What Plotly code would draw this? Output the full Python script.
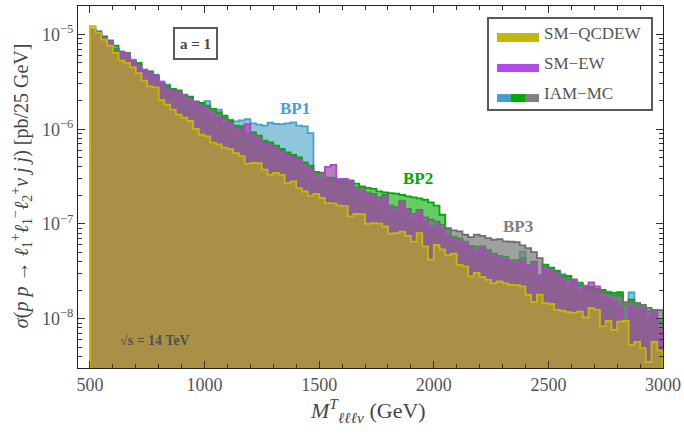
import plotly.graph_objects as go

# ---------------- data (pb / 25 GeV), bins of 25 GeV from 500 to 3000 GeV ----------------
bin_start = 500
bin_width = 25
n_bins = 100

sm_qcdew = [1.22e-5, 1.04e-5, 8.8e-6, 7.6e-6, 6.4e-6, 5.3e-6, 5.0e-6, 4.5e-6, 3.9e-6, 3.25e-6,
            2.83e-6, 2.76e-6, 2.02e-6, 1.81e-6, 1.61e-6, 1.42e-6, 1.32e-6, 1.22e-6, 1.01e-6, 8.75e-7,
            8.4e-7, 7.2e-7, 6.9e-7, 6.4e-7, 6.15e-7, 5.6e-7, 5.2e-7, 4.3e-7, 4.4e-7, 4.37e-7,
            3.74e-7, 3.31e-7, 3.45e-7, 3.3e-7, 2.7e-7, 2.81e-7, 2.39e-7, 2.2e-7, 1.99e-7, 2.08e-7,
            1.88e-7, 1.66e-7, 1.65e-7, 1.56e-7, 1.54e-7, 1.2e-7, 1.28e-7, 1.27e-7, 1.0e-7, 1.02e-7,
            1.01e-7, 9.4e-8, 7.9e-8, 8.0e-8, 8.3e-8, 7.5e-8, 6.5e-8, 8.0e-8, 5.8e-8, 4.2e-8,
            6.0e-8, 5.4e-8, 4.7e-8, 4.85e-8, 3.7e-8, 3.56e-8, 2.8e-8, 3.05e-8, 2.75e-8, 2.57e-8,
            2.38e-8, 2.47e-8, 2.36e-8, 2.28e-8, 2.26e-8, 2.19e-8, 1.79e-8, 1.5e-8, 1.79e-8, 1.46e-8,
            1.43e-8, 1.24e-8, 1.21e-8, 1.17e-8, 1.15e-8, 1.19e-8, 1.03e-8, 1.29e-8, 1.24e-8, 8.3e-9,
            9.5e-9, 7.6e-9, 9.3e-9, 9.5e-9, 5.3e-9, 5.7e-9, 4.9e-9, 3.5e-9, 5.7e-9, 4.6e-9]

sm_ew = [1.08e-5, 1.02e-5, 9.2e-6, 8.25e-6, 6.6e-6, 6.4e-6, 5.8e-6, 5.2e-6, 4.6e-6, 4.2e-6,
         3.9e-6, 3.56e-6, 3.08e-6, 2.61e-6, 2.51e-6, 2.41e-6, 2.14e-6, 2.08e-6, 1.81e-6, 1.74e-6,
         1.61e-6, 1.37e-6, 1.31e-6, 1.16e-6, 1.12e-6, 9.9e-7, 9.8e-7, 1.13e-6, 8.4e-7, 7.75e-7,
         6.9e-7, 6.6e-7, 6.1e-7, 5.6e-7, 5.2e-7, 4.85e-7, 4.57e-7, 4.05e-7, 3.74e-7, 2.98e-7,
         3.05e-7, 4.0e-7, 4.2e-7, 2.93e-7, 2.98e-7, 2.81e-7, 2.2e-7, 2.19e-7, 1.95e-7, 1.88e-7,
         1.73e-7, 1.83e-7, 1.41e-7, 1.36e-7, 1.6e-7, 1.3e-7, 1.13e-7, 1.3e-7, 1.02e-7, 9.05e-8,
         9.4e-8, 8.5e-8, 7.5e-8, 6.8e-8, 6.5e-8, 6.0e-8, 5.4e-8, 5.1e-8, 5.45e-8, 4.9e-8,
         4.5e-8, 4.26e-8, 4.19e-8, 3.86e-8, 3.86e-8, 4.0e-8, 3.42e-8, 3.7e-8, 2.68e-8, 3.42e-8,
         3.28e-8, 2.9e-8, 2.57e-8, 2.28e-8, 2.57e-8, 1.97e-8, 2.24e-8, 2.41e-8, 2.19e-8, 1.72e-8,
         1.62e-8, 1.52e-8, 1.35e-8, 9.5e-9, 1.35e-8, 1.24e-8, 1.29e-8, 1.06e-8, 1.17e-8, 7.6e-9]

iam_bp1 = [1.14e-5, 1.08e-5, 9.36e-6, 8.5e-6, 7.08e-6, 6.63e-6, 6.05e-6, 5.42e-6, 4.86e-6, 4.15e-6,
           3.95e-6, 3.77e-6, 3.2e-6, 2.95e-6, 2.58e-6, 2.49e-6, 2.26e-6, 2.15e-6, 1.86e-6, 1.84e-6,
           1.98e-6, 1.57e-6, 1.61e-6, 1.34e-6, 1.26e-6, 1.21e-6, 1.24e-6, 1.28e-6, 1.15e-6, 1.12e-6,
           1.09e-6, 1.17e-6, 1.14e-6, 1.13e-6, 1.15e-6, 1.18e-6, 1.09e-6, 1.07e-6, 9.1e-7, 3.23e-7,
           3.2e-7, 3.0e-7, 3.08e-7, 2.98e-7, 2.86e-7, 2.79e-7, 2.32e-7, 2.3e-7, 2.05e-7, 1.97e-7,
           1.82e-7, 1.93e-7, 1.48e-7, 1.43e-7, 1.68e-7, 1.37e-7, 1.18e-7, 1.37e-7, 1.07e-7, 9.5e-8,
           9.9e-8, 9.0e-8, 7.9e-8, 7.15e-8, 6.86e-8, 6.33e-8, 5.7e-8, 5.38e-8, 5.7e-8, 5.18e-8,
           4.77e-8, 4.48e-8, 4.4e-8, 4.06e-8, 4.06e-8, 5.09e-8, 3.59e-8, 3.9e-8, 2.82e-8, 3.53e-8,
           3.37e-8, 3.13e-8, 2.96e-8, 2.71e-8, 2.46e-8, 2.28e-8, 2.17e-8, 2.12e-8, 2.02e-8, 1.94e-8,
           1.93e-8, 1.79e-8, 1.83e-8, 1.44e-8, 1.89e-8, 1.4e-8, 1.31e-8, 1.18e-8, 1.18e-8, 9.7e-9]

iam_bp2 = [1.12e-5, 1.06e-5, 9.55e-6, 8.4e-6, 7.62e-6, 6.5e-6, 6.12e-6, 5.29e-6, 5.0e-6, 4.25e-6,
           4.08e-6, 3.68e-6, 3.1e-6, 2.88e-6, 2.66e-6, 2.57e-6, 2.23e-6, 2.21e-6, 1.91e-6, 1.89e-6,
           1.77e-6, 1.64e-6, 1.5e-6, 1.39e-6, 1.23e-6, 1.09e-6, 1.08e-6, 8.75e-7, 9.25e-7, 8.54e-7,
           7.56e-7, 7.26e-7, 6.7e-7, 6.18e-7, 5.69e-7, 5.34e-7, 5.04e-7, 4.46e-7, 4.12e-7, 3.55e-7,
           3.35e-7, 3.08e-7, 3.0e-7, 2.9e-7, 2.93e-7, 2.88e-7, 2.66e-7, 2.49e-7, 2.4e-7, 2.34e-7,
           2.21e-7, 2.15e-7, 2.12e-7, 2.09e-7, 2.02e-7, 1.95e-7, 1.91e-7, 1.86e-7, 1.8e-7, 1.69e-7,
           1.56e-7, 1.25e-7, 8.7e-8, 7.33e-8, 7.03e-8, 6.49e-8, 5.85e-8, 5.75e-8, 5.8e-8, 5.3e-8,
           4.88e-8, 4.59e-8, 4.5e-8, 4.16e-8, 4.15e-8, 4.32e-8, 3.68e-8, 3.99e-8, 2.89e-8, 3.71e-8,
           3.45e-8, 3.21e-8, 2.84e-8, 2.83e-8, 2.52e-8, 2.4e-8, 2.12e-8, 2.17e-8, 2.07e-8, 2.02e-8,
           1.88e-8, 1.87e-8, 1.91e-8, 1.4e-8, 1.59e-8, 1.37e-8, 1.34e-8, 1.21e-8, 1.16e-8, 9.3e-9]

iam_bp3 = [1.11e-5, 1.04e-5, 9.25e-6, 8.67e-6, 6.9e-6, 6.43e-6, 6.38e-6, 5.23e-6, 4.74e-6, 4.1e-6,
           3.86e-6, 3.59e-6, 3.02e-6, 2.75e-6, 2.55e-6, 2.4e-6, 2.32e-6, 2.05e-6, 1.97e-6, 1.77e-6,
           1.69e-6, 1.53e-6, 1.46e-6, 1.29e-6, 1.17e-6, 1.04e-6, 1.03e-6, 8.75e-7, 8.8e-7, 8.13e-7,
           7.2e-7, 6.91e-7, 6.38e-7, 5.89e-7, 5.42e-7, 5.09e-7, 4.8e-7, 4.25e-7, 3.93e-7, 3.39e-7,
           3.48e-7, 2.86e-7, 2.85e-7, 2.79e-7, 2.73e-7, 2.66e-7, 2.43e-7, 2.42e-7, 2.15e-7, 2.07e-7,
           1.91e-7, 2.02e-7, 1.56e-7, 1.5e-7, 1.76e-7, 1.44e-7, 1.28e-7, 1.41e-7, 1.17e-7, 1.11e-7,
           1.06e-7, 9.8e-8, 9.05e-8, 8.54e-8, 8.34e-8, 7.69e-8, 7.27e-8, 7.7e-8, 7.5e-8, 7.1e-8,
           6.81e-8, 6.93e-8, 6.54e-8, 6.49e-8, 6.41e-8, 5.93e-8, 5.56e-8, 5.05e-8, 4.37e-8, 3.44e-8,
           3.2e-8, 2.98e-8, 2.71e-8, 2.57e-8, 2.6e-8, 2.23e-8, 2.07e-8, 2.02e-8, 1.97e-8, 1.88e-8,
           1.83e-8, 1.75e-8, 1.74e-8, 1.5e-8, 1.51e-8, 1.47e-8, 1.4e-8, 1.3e-8, 1.24e-8, 1.23e-8]

x_ticks = [500, 1000, 1500, 2000, 2500, 3000]
y_ticks = [1e-8, 1e-7, 1e-6, 1e-5]
y_ticktext = ["10<sup>\u22128</sup>", "10<sup>\u22127</sup>", "10<sup>\u22126</sup>", "10<sup>\u22125</sup>"]

# ---------------- helpers ----------------
FLOOR = 1e-12
edges = [bin_start + bin_width * i for i in range(n_bins + 1)]


def step_trace(values, fill, line):
    xs = [edges[0]] + edges[:n_bins] + [edges[-1], edges[-1]]
    ys = [FLOOR] + list(values) + [values[-1], FLOOR]
    return go.Scatter(x=xs, y=ys, mode="lines", line=dict(color=line, width=1.8, shape="hv"),
                      fill="toself", fillcolor=fill, hoverinfo="skip", showlegend=False)


fig = go.Figure()
fig.add_trace(step_trace(iam_bp1, "rgba(68,160,200,0.6)", "rgb(70,160,205)"))
fig.add_trace(step_trace(iam_bp2, "rgba(0,170,0,0.6)", "rgb(0,170,0)"))
fig.add_trace(step_trace(iam_bp3, "rgba(120,120,120,0.7)", "rgb(110,110,110)"))
fig.add_trace(step_trace(sm_ew, "rgba(155,80,158,0.72)", "rgb(175,70,200)"))
fig.add_trace(step_trace(sm_qcdew, "rgba(194,183,10,0.55)", "rgb(200,185,0)"))

SERIF = "Liberation Serif, Times New Roman, DejaVu Serif, serif"
TXT = "rgb(85,85,85)"

minor_y = [m * 10.0 ** e for e in range(-9, -4) for m in range(2, 10)]

fig.update_xaxes(range=[448, 3000], tickvals=x_ticks, ticks="inside", ticklen=7, tickwidth=1,
                 tickcolor="#333", showline=True, linecolor="#222", linewidth=1.2, mirror="allticks",
                 showgrid=False, zeroline=False, automargin=False,
                 tickfont=dict(family=SERIF, size=18, color=TXT),
                 minor=dict(dtick=100, ticks="inside", ticklen=4, tickcolor="#333", showgrid=False))
fig.update_yaxes(type="log", range=[-8.52, -4.70], tickvals=y_ticks, ticktext=y_ticktext,
                 ticks="inside", ticklen=7, tickwidth=1, tickcolor="#333", showline=True,
                 linecolor="#222", linewidth=1.2, mirror="allticks", showgrid=False, zeroline=False,
                 automargin=False,
                 tickfont=dict(family=SERIF, size=18, color=TXT),
                 minor=dict(tickvals=minor_y, ticks="inside", ticklen=4, tickcolor="#333", showgrid=False))

# paper coordinate helpers (plot area: x 78..663, y 6..367.7 px)
L, R, T, B = 78, 663, 6, 367.7


def px(x):
    return (x - L) / (R - L)


def py(y):
    return 1 - (y - T) / (B - T)


shapes = []
annotations = []

# legend box
shapes.append(dict(type="rect", xref="paper", yref="paper", x0=px(488), x1=px(652), y0=py(110), y1=py(18),
                   line=dict(color="rgb(90,90,90)", width=2), fillcolor="white", layer="above"))
shapes.append(dict(type="rect", xref="paper", yref="paper", x0=px(497), x1=px(539), y0=py(42), y1=py(33),
                   line=dict(width=0), fillcolor="rgb(194,183,10)", layer="above"))
shapes.append(dict(type="rect", xref="paper", yref="paper", x0=px(497), x1=px(539), y0=py(72), y1=py(64),
                   line=dict(width=0), fillcolor="rgb(180,75,232)", layer="above"))
for (a, b, c) in [(497, 511, "rgb(68,160,200)"), (511, 525, "rgb(0,170,0)"), (525, 539, "rgb(128,128,128)")]:
    shapes.append(dict(type="rect", xref="paper", yref="paper", x0=px(a), x1=px(b), y0=py(102), y1=py(94),
                       line=dict(width=0), fillcolor=c, layer="above"))
for label, yc in [("SM\u2212QCDEW", 33), ("SM\u2212EW", 63), ("IAM\u2212MC", 93)]:
    annotations.append(dict(xref="paper", yref="paper", x=px(542), y=py(yc), text=label, showarrow=False,
                            xanchor="left", yanchor="middle", font=dict(family=SERIF, size=17, color=TXT)))

# a = 1 box
shapes.append(dict(type="rect", xref="paper", yref="paper", x0=px(174), x1=px(217), y0=py(59), y1=py(28),
                   line=dict(color="rgb(90,90,90)", width=2), fillcolor="white", layer="above"))
annotations.append(dict(xref="paper", yref="paper", x=px(195.5), y=py(44), text="<b>a = 1</b>", showarrow=False,
                        xanchor="center", yanchor="middle", font=dict(family=SERIF, size=15, color="rgb(70,70,70)")))

# benchmark labels
for text, xc, yc, col in [("BP1", 295, 108, "rgb(70,160,205)"), ("BP2", 418, 178, "rgb(0,170,0)"),
                          ("BP3", 518, 226, "rgb(128,128,128)")]:
    annotations.append(dict(xref="paper", yref="paper", x=px(xc), y=py(yc), text="<b>" + text + "</b>",
                            showarrow=False, xanchor="center", yanchor="middle",
                            font=dict(family=SERIF, size=17, color=col)))

annotations.append(dict(xref="paper", yref="paper", x=px(155), y=py(340), text="<b>\u221as = 14 TeV</b>",
                        showarrow=False, xanchor="center", yanchor="middle",
                        font=dict(family=SERIF, size=14, color="rgb(80,80,80)")))

# axis titles
annotations.append(dict(xref="paper", yref="paper", x=px(368), y=py(410),
                        text="<i>M</i><sup><i>T</i></sup><sub><i>\u2113\u2113\u2113\u03bd</i></sub> (GeV)",
                        showarrow=False, xanchor="center", yanchor="middle",
                        font=dict(family=SERIF, size=22, color="rgb(70,70,70)")))
annotations.append(dict(xref="paper", yref="paper", x=px(22), y=py(186), textangle=-90,
                        text="<i>\u03c3</i>(<i>p p</i> \u2192 <i>\u2113</i><sub>1</sub><sup>+</sup>"
                             "<i>\u2113</i><sub>1</sub><sup>\u2212</sup><i>\u2113</i><sub>2</sub><sup>+</sup>"
                             "<i>\u03bd j j</i>) [pb/25 GeV]",
                        showarrow=False, xanchor="center", yanchor="middle",
                        font=dict(family=SERIF, size=20, color="rgb(70,70,70)")))

fig.update_layout(width=684, height=434, margin=dict(l=L, r=684 - R, t=T, b=434 - B),
                  plot_bgcolor="white", paper_bgcolor="white", showlegend=False,
                  shapes=shapes, annotations=annotations)

fig.write_html("out.html", config={"displayModeBar": False},
               post_script="document.body.style.margin='0';document.body.style.padding='0';")
